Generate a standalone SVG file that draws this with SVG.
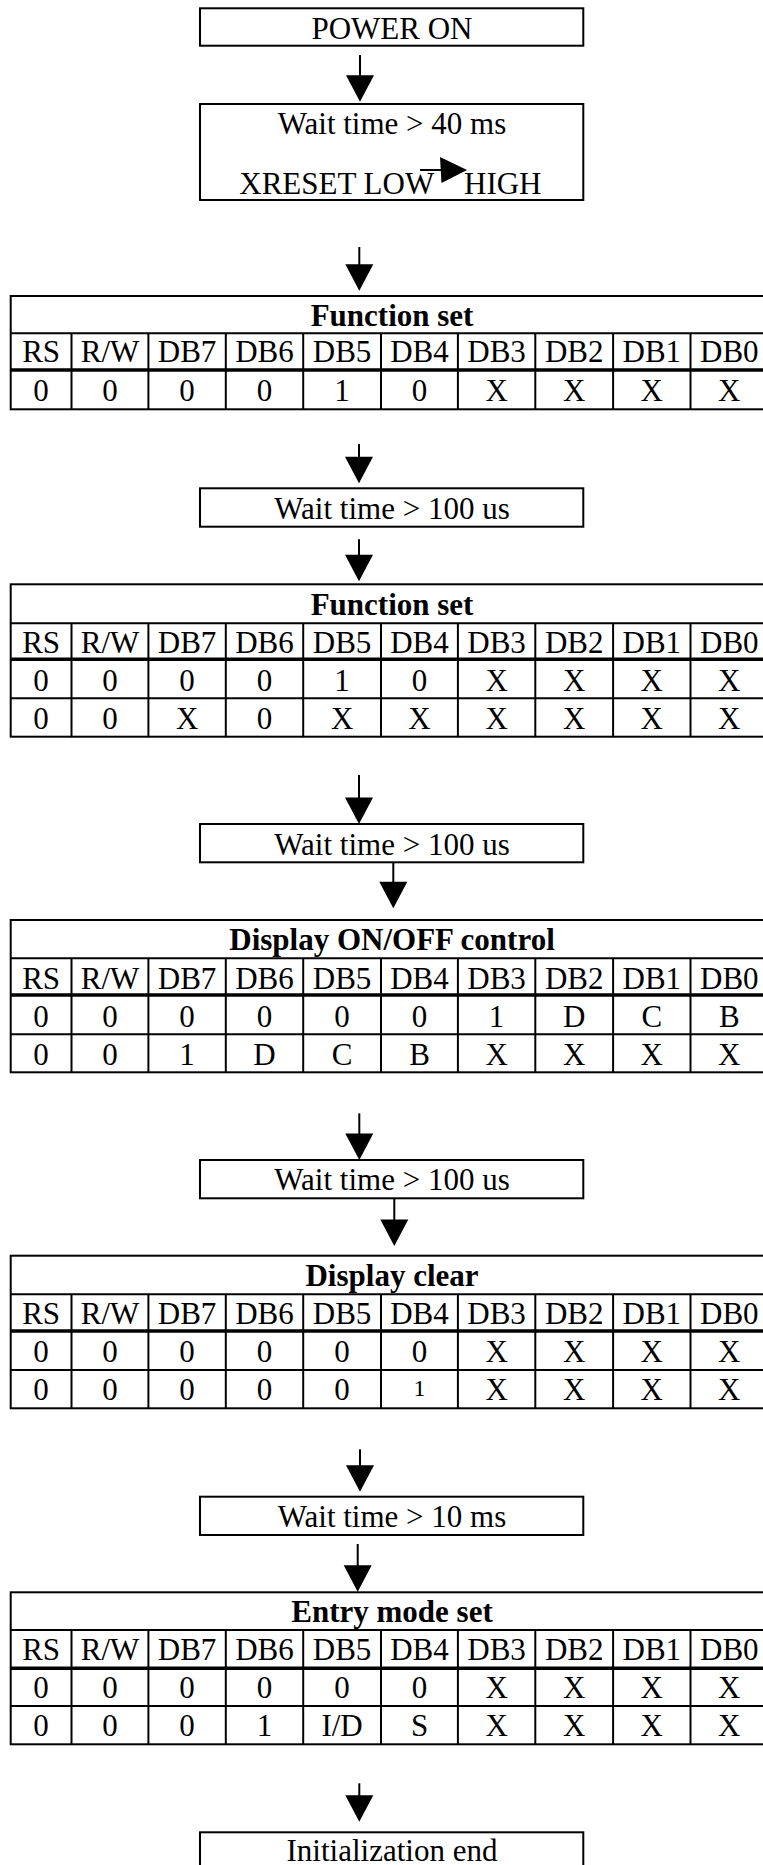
<svg xmlns="http://www.w3.org/2000/svg" width="763" height="1865" viewBox="0 0 763 1865">
<style>
.t{font-family:"Liberation Serif","Times New Roman",serif;font-size:31px;fill:#000;text-anchor:middle}
.s{text-anchor:start}
.b{font-weight:bold}
.box{fill:#fff;stroke:#000;stroke-width:2}
.ln{stroke:#000;stroke-width:2;fill:none}
.th{stroke:#000;stroke-width:3.5}
.sm{font-size:24px}
</style>
<defs>
<path id="ah" d="M-14,0 L14,0 L0,26.5 Z" fill="#000"/>
<g id="cols" class="ln">
<line x1="71.5" y1="0" x2="71.5" y2="76"/>
<line x1="148.4" y1="0" x2="148.4" y2="76"/>
<line x1="225.8" y1="0" x2="225.8" y2="76"/>
<line x1="303.2" y1="0" x2="303.2" y2="76"/>
<line x1="381" y1="0" x2="381" y2="76"/>
<line x1="457.9" y1="0" x2="457.9" y2="76"/>
<line x1="535.3" y1="0" x2="535.3" y2="76"/>
<line x1="613.1" y1="0" x2="613.1" y2="76"/>
<line x1="690.5" y1="0" x2="690.5" y2="76"/>
</g>
<g id="cols3" class="ln">
<line x1="71.5" y1="0" x2="71.5" y2="114"/>
<line x1="148.4" y1="0" x2="148.4" y2="114"/>
<line x1="225.8" y1="0" x2="225.8" y2="114"/>
<line x1="303.2" y1="0" x2="303.2" y2="114"/>
<line x1="381" y1="0" x2="381" y2="114"/>
<line x1="457.9" y1="0" x2="457.9" y2="114"/>
<line x1="535.3" y1="0" x2="535.3" y2="114"/>
<line x1="613.1" y1="0" x2="613.1" y2="114"/>
<line x1="690.5" y1="0" x2="690.5" y2="114"/>
</g>
<g id="hdr">
<text class="t"><tspan x="41.1">RS</tspan><tspan x="110">R/W</tspan><tspan x="187.1">DB7</tspan><tspan x="264.5">DB6</tspan><tspan x="342.1">DB5</tspan><tspan x="419.5">DB4</tspan><tspan x="496.6">DB3</tspan><tspan x="574.2">DB2</tspan><tspan x="651.8">DB1</tspan><tspan x="729.3">DB0</tspan></text>
</g>
</defs>
<rect width="763" height="1865" fill="#fff"/>

<g id="power-on">
<rect class="box" x="200" y="8.3" width="383.3" height="37.4"/>
<text class="t" x="392" y="39">POWER ON</text>
</g>

<g id="wait-40ms">
<rect class="box" x="200" y="104" width="383.3" height="96"/>
<text class="t" x="392" y="134.3">Wait time &gt; 40 ms</text>
<text class="t s" x="239.3" y="194.3">XRESET LOW<tspan x="464">HIGH</tspan></text>
<line class="ln" x1="420" y1="170" x2="442" y2="170"/>
<path d="M440,157 L441.5,183 L467,170 Z" fill="#000"/>
</g>

<g id="function-set-1">
<rect class="box" x="10.7" y="296" width="762" height="113.3"/>
<line class="ln" x1="10.7" y1="333.3" x2="773" y2="333.3"/>
<line class="th" x1="10.7" y1="370" x2="773" y2="370"/>
<use href="#cols" transform="translate(0,333.3)"/>
<text class="t b" x="392" y="326">Function set</text>
<use href="#hdr" transform="translate(0,362)"/>
<text class="t" y="401"><tspan x="41.1">0</tspan><tspan x="110">0</tspan><tspan x="187.1">0</tspan><tspan x="264.5">0</tspan><tspan x="342.1">1</tspan><tspan x="419.5">0</tspan><tspan x="496.6">X</tspan><tspan x="574.2">X</tspan><tspan x="651.8">X</tspan><tspan x="729.3">X</tspan></text>
</g>

<g id="wait-100us-1">
<rect class="box" x="200" y="488.3" width="383.3" height="38.4"/>
<text class="t" x="392" y="519">Wait time &gt; 100 us</text>
</g>

<g id="function-set-2">
<rect class="box" x="10.7" y="584.3" width="762" height="152.4"/>
<line class="ln" x1="10.7" y1="623.3" x2="773" y2="623.3"/>
<line class="th" x1="10.7" y1="659.3" x2="773" y2="659.3"/>
<line class="ln" x1="10.7" y1="698.3" x2="773" y2="698.3"/>
<use href="#cols3" transform="translate(0,623.3)"/>
<text class="t b" x="392" y="614.5">Function set</text>
<use href="#hdr" transform="translate(0,652.5)"/>
<text class="t" y="690.5"><tspan x="41.1">0</tspan><tspan x="110">0</tspan><tspan x="187.1">0</tspan><tspan x="264.5">0</tspan><tspan x="342.1">1</tspan><tspan x="419.5">0</tspan><tspan x="496.6">X</tspan><tspan x="574.2">X</tspan><tspan x="651.8">X</tspan><tspan x="729.3">X</tspan></text>
<text class="t" y="728.5"><tspan x="41.1">0</tspan><tspan x="110">0</tspan><tspan x="187.1">X</tspan><tspan x="264.5">0</tspan><tspan x="342.1">X</tspan><tspan x="419.5">X</tspan><tspan x="496.6">X</tspan><tspan x="574.2">X</tspan><tspan x="651.8">X</tspan><tspan x="729.3">X</tspan></text>
</g>

<g id="wait-100us-2">
<rect class="box" x="200" y="824" width="383.3" height="38.3"/>
<text class="t" x="392" y="855">Wait time &gt; 100 us</text>
</g>

<g id="display-onoff">
<rect class="box" x="10.7" y="920" width="762" height="152.3"/>
<line class="ln" x1="10.7" y1="958.3" x2="773" y2="958.3"/>
<line class="th" x1="10.7" y1="995" x2="773" y2="995"/>
<line class="ln" x1="10.7" y1="1034.3" x2="773" y2="1034.3"/>
<use href="#cols3" transform="translate(0,958.3)"/>
<text class="t b" x="392" y="950">Display ON/OFF control</text>
<use href="#hdr" transform="translate(0,988.5)"/>
<text class="t" y="1027"><tspan x="41.1">0</tspan><tspan x="110">0</tspan><tspan x="187.1">0</tspan><tspan x="264.5">0</tspan><tspan x="342.1">0</tspan><tspan x="419.5">0</tspan><tspan x="496.6">1</tspan><tspan x="574.2">D</tspan><tspan x="651.8">C</tspan><tspan x="729.3">B</tspan></text>
<text class="t" y="1065"><tspan x="41.1">0</tspan><tspan x="110">0</tspan><tspan x="187.1">1</tspan><tspan x="264.5">D</tspan><tspan x="342.1">C</tspan><tspan x="419.5">B</tspan><tspan x="496.6">X</tspan><tspan x="574.2">X</tspan><tspan x="651.8">X</tspan><tspan x="729.3">X</tspan></text>
</g>

<g id="wait-100us-3">
<rect class="box" x="200" y="1160" width="383.3" height="38.3"/>
<text class="t" x="392" y="1190">Wait time &gt; 100 us</text>
</g>

<g id="display-clear">
<rect class="box" x="10.7" y="1255.7" width="762" height="152.6"/>
<line class="ln" x1="10.7" y1="1294.3" x2="773" y2="1294.3"/>
<line class="th" x1="10.7" y1="1331" x2="773" y2="1331"/>
<line class="ln" x1="10.7" y1="1370" x2="773" y2="1370"/>
<use href="#cols3" transform="translate(0,1294.3)"/>
<text class="t b" x="392" y="1285.7">Display clear</text>
<use href="#hdr" transform="translate(0,1324)"/>
<text class="t" y="1362"><tspan x="41.1">0</tspan><tspan x="110">0</tspan><tspan x="187.1">0</tspan><tspan x="264.5">0</tspan><tspan x="342.1">0</tspan><tspan x="419.5">0</tspan><tspan x="496.6">X</tspan><tspan x="574.2">X</tspan><tspan x="651.8">X</tspan><tspan x="729.3">X</tspan></text>
<text class="t" y="1400"><tspan x="41.1">0</tspan><tspan x="110">0</tspan><tspan x="187.1">0</tspan><tspan x="264.5">0</tspan><tspan x="342.1">0</tspan><tspan x="496.6">X</tspan><tspan x="574.2">X</tspan><tspan x="651.8">X</tspan><tspan x="729.3">X</tspan></text>
<text class="t sm" x="419.5" y="1396">1</text>
</g>

<g id="wait-10ms">
<rect class="box" x="200" y="1496.7" width="383.3" height="38.3"/>
<text class="t" x="392" y="1526.5">Wait time &gt; 10 ms</text>
</g>

<g id="entry-mode-set">
<rect class="box" x="10.7" y="1592.3" width="762" height="152"/>
<line class="ln" x1="10.7" y1="1630" x2="773" y2="1630"/>
<line class="th" x1="10.7" y1="1668.3" x2="773" y2="1668.3"/>
<line class="ln" x1="10.7" y1="1706" x2="773" y2="1706"/>
<use href="#cols3" transform="translate(0,1630)"/>
<text class="t b" x="392" y="1622">Entry mode set</text>
<use href="#hdr" transform="translate(0,1659.5)"/>
<text class="t" y="1698"><tspan x="41.1">0</tspan><tspan x="110">0</tspan><tspan x="187.1">0</tspan><tspan x="264.5">0</tspan><tspan x="342.1">0</tspan><tspan x="419.5">0</tspan><tspan x="496.6">X</tspan><tspan x="574.2">X</tspan><tspan x="651.8">X</tspan><tspan x="729.3">X</tspan></text>
<text class="t" y="1735.5"><tspan x="41.1">0</tspan><tspan x="110">0</tspan><tspan x="187.1">0</tspan><tspan x="264.5">1</tspan><tspan x="342.1">I/D</tspan><tspan x="419.5">S</tspan><tspan x="496.6">X</tspan><tspan x="574.2">X</tspan><tspan x="651.8">X</tspan><tspan x="729.3">X</tspan></text>
</g>

<g id="init-end">
<rect class="box" x="200" y="1832.3" width="383.3" height="42"/>
<text class="t" x="392" y="1861">Initialization end</text>
</g>

<g id="connectors">
<line class="ln" x1="360" y1="55" x2="360" y2="76"/>
<use href="#ah" transform="translate(360,75.2)"/>
<line class="ln" x1="359.3" y1="247" x2="359.3" y2="265"/>
<use href="#ah" transform="translate(359.3,264.2)"/>
<line class="ln" x1="359" y1="444" x2="359" y2="458"/>
<use href="#ah" transform="translate(359,456.8)"/>
<line class="ln" x1="359" y1="539.3" x2="359" y2="556"/>
<use href="#ah" transform="translate(359,554.8)"/>
<line class="ln" x1="359" y1="775" x2="359" y2="799"/>
<use href="#ah" transform="translate(359,797.5)"/>
<line class="ln" x1="393.3" y1="862.3" x2="393.3" y2="883"/>
<use href="#ah" transform="translate(393.3,881.8)"/>
<line class="ln" x1="359.3" y1="1113.3" x2="359.3" y2="1135"/>
<use href="#ah" transform="translate(359.3,1133.5)"/>
<line class="ln" x1="394.3" y1="1198.3" x2="394.3" y2="1221"/>
<use href="#ah" transform="translate(394.3,1219.5)"/>
<line class="ln" x1="360" y1="1449.3" x2="360" y2="1466"/>
<use href="#ah" transform="translate(360,1465.2)"/>
<line class="ln" x1="357.7" y1="1544" x2="357.7" y2="1567"/>
<use href="#ah" transform="translate(357.7,1565.2)"/>
<line class="ln" x1="359.3" y1="1783.3" x2="359.3" y2="1797"/>
<use href="#ah" transform="translate(359.3,1795.2)"/>
</g>
</svg>
